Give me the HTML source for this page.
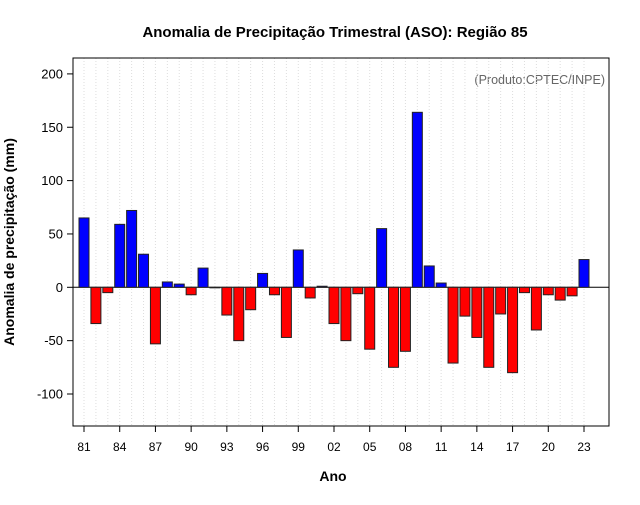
<!DOCTYPE html>
<html><head><meta charset="utf-8"><style>
body{margin:0;background:#fff;font-family:"Liberation Sans",sans-serif}
</style></head><body>
<svg width="640" height="500" xmlns="http://www.w3.org/2000/svg" font-family="Liberation Sans, sans-serif">
<text x="335" y="37" text-anchor="middle" font-size="15" font-weight="bold">Anomalia de Precipitação Trimestral (ASO): Região 85</text>
<text x="605" y="84" text-anchor="end" font-size="12.5" fill="#666">(Produto:CPTEC/INPE)</text>
<text x="333" y="481" text-anchor="middle" font-size="14" font-weight="bold">Ano</text>
<text transform="translate(14,242) rotate(-90)" text-anchor="middle" font-size="14" font-weight="bold">Anomalia de precipitação (mm)</text>
<g id="grid"></g><g id="bars"></g><g id="axes"></g>
<rect x="73" y="58" width="536" height="368" fill="none" stroke="#000" stroke-width="1"/>
</svg>
<script>
const years=[81,82,83,84,85,86,87,88,89,90,91,92,93,94,95,96,97,98,99,0,1,2,3,4,5,6,7,8,9,10,11,12,13,14,15,16,17,18,19,20,21,22,23];
const values=[65,-34,-5,59,72,31,-53,5,3,-7,18,-0.5,-26,-50,-21,13,-7,-47,35,-10,1,-34,-50,-6,-58,55,-75,-60,164,20,4,-71,-27,-47,-75,-25,-80,-5,-40,-7,-12,-8,26];
const yTicks=[200,150,100,50,0,-50,-100];
const NS='http://www.w3.org/2000/svg';
const x=i=>84+i*(500/42);
const y=v=>287.3-v*1.067;
function mk(t,a,p){const e=document.createElementNS(NS,t);for(const k in a)e.setAttribute(k,a[k]);document.getElementById(p).appendChild(e);return e;}
years.forEach((yr,i)=>{
  const g=mk('line',{x1:x(i),x2:x(i),y1:58,y2:426,stroke:'#ddd','stroke-dasharray':'1,2'},'grid');
  
  
});
const z=mk('line',{x1:73,x2:609,y1:y(0),y2:y(0),stroke:'#000'},'grid');


values.forEach((v,i)=>{
  const top=Math.min(y(v),y(0)),h=Math.abs(y(v)-y(0));
  const r=mk('rect',{x:x(i)-5,y:top,width:10,height:Math.max(h,0.5),fill:v>=0?'#0000ff':'#ff0000',stroke:'#222','stroke-width':1},'bars');
  
  
});
years.forEach((yr,i)=>{
  if(i%3!==0)return;
  mk('line',{x1:x(i),x2:x(i),y1:426,y2:432,stroke:'#000'},'axes');
  const t=mk('text',{x:x(i),y:451,'text-anchor':'middle','font-size':12},'axes');
  t.textContent=String(yr).padStart(2,'0');
  
  
});
yTicks.forEach(v=>{
  mk('line',{x1:67,x2:73,y1:y(v),y2:y(v),stroke:'#000'},'axes');
  const t=mk('text',{x:63,y:y(v)+4.5,'text-anchor':'end','font-size':13},'axes');
  t.textContent=v;
  
  
});
</script>
</body></html>
